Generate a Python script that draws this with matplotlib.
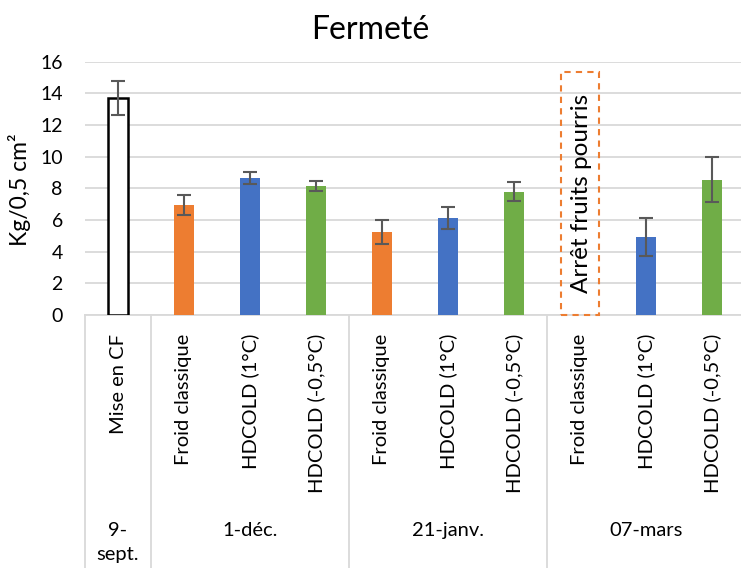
import matplotlib
matplotlib.use("Agg")
import matplotlib.pyplot as plt
import matplotlib.transforms as mtransforms
from matplotlib.patches import Rectangle
import numpy as np

plt.rcParams['font.family'] = ['Lato', 'DejaVu Sans']

# ---- data ----
categories = ["Mise en CF",
              "Froid classique", "HDCOLD (1°C)", "HDCOLD (-0,5°C)",
              "Froid classique", "HDCOLD (1°C)", "HDCOLD (-0,5°C)",
              "Froid classique", "HDCOLD (1°C)", "HDCOLD (-0,5°C)"]
groups = ["9-\nsept.", "1-déc.", "21-janv.", "07-mars"]
group_sizes = [1, 3, 3, 3]
values = [13.7, 6.95, 8.65, 8.17, 5.25, 6.15, 7.8, np.nan, 4.9, 8.55]
errors = [1.08, 0.65, 0.38, 0.31, 0.74, 0.70, 0.58, np.nan, 1.20, 1.40]
colors = ["white", "#ED7D31", "#4472C4", "#70AD47",
          "#ED7D31", "#4472C4", "#70AD47",
          "#ED7D31", "#4472C4", "#70AD47"]
yticks = [0, 2, 4, 6, 8, 10, 12, 14, 16]
note_text = "Arrêt fruits pourris"
note_index = 7
note_top = 15.35

fig = plt.figure(figsize=(7.41, 5.68), dpi=100)
ax = fig.add_axes([85/741, 253/568, 660/741, 253.3/568])

x = np.arange(len(categories))
edgecolors = ["black" if c == "white" else c for c in colors]
lws = [1.8 if c == "white" else 0 for c in colors]
ax.bar(x, values, width=0.3, color=colors, edgecolor=edgecolors, linewidth=lws, zorder=3)
ax.errorbar(x, values, yerr=errors, fmt='none', ecolor="#595959", elinewidth=1.5,
            capsize=5, capthick=1.5, zorder=4)

ax.set_xlim(-0.5, len(categories) - 0.5)
ax.set_ylim(0, 16)
ax.set_yticks(yticks)
ax.tick_params(axis='y', length=0, pad=16, labelsize=14)
ax.set_xticks([])
ax.yaxis.grid(True, color="#D9D9D9", linewidth=1.3, zorder=0)
for s in ["top", "right", "left"]:
    ax.spines[s].set_visible(False)
ax.spines["bottom"].set_color("#D9D9D9")
ax.spines["bottom"].set_linewidth(1.3)

# dashed note box
ax.add_patch(Rectangle((note_index - 0.29, 0), 0.58, note_top, fill=False,
                       edgecolor="#ED7D31", linestyle=(0, (3, 2.5)), linewidth=1.5,
                       zorder=5, clip_on=False))
ax.text(note_index + 0.03, 7.65, note_text, rotation=90, ha='center', va='center',
        fontsize=17.5, zorder=6)

# multi-level category axis
trans = mtransforms.blended_transform_factory(ax.transData, ax.transAxes)
for i, lab in enumerate(categories):
    ax.text(i, -0.075, lab, rotation=90, ha='center', va='top', fontsize=14.5,
            transform=trans, clip_on=False)

bounds = np.concatenate([[0], np.cumsum(group_sizes)]) - 0.5
for b in bounds:
    ax.plot([b, b], [0, -1.0], color="#D9D9D9", linewidth=1.3, transform=trans,
            clip_on=False)
for gi, g in enumerate(groups):
    center = (bounds[gi] + bounds[gi + 1]) / 2
    ypos = -0.9 if "\n" in g else -0.85
    ax.text(center, ypos, g, ha='center', va='center', fontsize=14.5,
            family=['Liberation Sans Narrow', 'Lato'], linespacing=1.5,
            transform=trans, clip_on=False)

fig.text(370/741, 1 - 30/568, "Fermeté", ha='center', va='center', fontsize=23)
fig.text(20/741, 1 - 190/568, "Kg/0,5 cm²", rotation=90, ha='center', va='center',
         fontsize=16.5)

fig.savefig("out.png", dpi=100)
